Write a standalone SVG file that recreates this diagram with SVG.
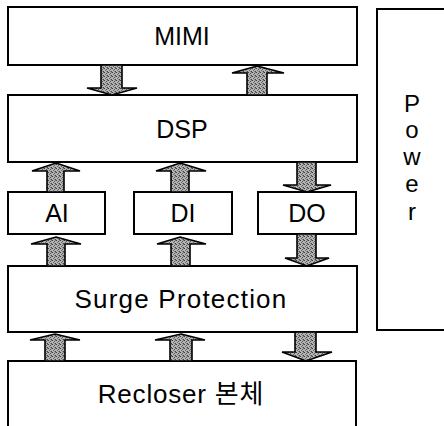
<svg xmlns="http://www.w3.org/2000/svg" width="444" height="426" viewBox="0 0 444 426">
<defs>
<pattern id="stip" width="4" height="4" patternUnits="userSpaceOnUse">
<rect width="4" height="4" fill="#b4b4b4"/>
<rect x="0" y="0" width="1" height="1" fill="#3c3c3c"/>
<rect x="2" y="1" width="1" height="1" fill="#555"/>
<rect x="3" y="3" width="1" height="1" fill="#444"/>
<rect x="1" y="2" width="1" height="1" fill="#6a6a6a"/>
<rect x="2" y="3" width="1" height="1" fill="#888"/>
<rect x="3" y="0" width="1" height="1" fill="#777"/>
</pattern>
</defs>
<style>
.box{fill:#fff;stroke:#000;stroke-width:2}
.t{font-family:"Liberation Sans",Arial,"Noto Sans CJK KR",sans-serif;font-size:25px;fill:#000;text-anchor:middle}
.p{font-size:24px}
.ar{fill:url(#stip);stroke:#000;stroke-width:1.6;stroke-linejoin:miter}
</style>
<g id="mimi"><rect class="box" x="8" y="7" width="349" height="58"/><text class="t" x="182" y="45">MIMI</text></g>
<g id="dsp"><rect class="box" x="8" y="95" width="349" height="67"/><text class="t" x="182" y="138">DSP</text></g>
<g id="ai"><rect class="box" x="8" y="192" width="97" height="42"/><text class="t" x="57" y="222">AI</text></g>
<g id="di"><rect class="box" x="134" y="192" width="98" height="42"/><text class="t" x="183" y="222">DI</text></g>
<g id="do"><rect class="box" x="258" y="192" width="98" height="42"/><text class="t" x="307" y="222">DO</text></g>
<g id="surge"><rect class="box" x="8" y="266" width="349" height="66"/><text class="t" x="181" y="308" style="font-size:26px;letter-spacing:1.2px">Surge Protection</text></g>
<g id="recloser"><rect class="box" x="8" y="361" width="348" height="70"/><text class="t" x="181" y="403" style="font-size:26px;letter-spacing:0.8px">Recloser 본체</text></g>
<g id="power"><rect class="box" x="377" y="9" width="80" height="321"/>
<text class="t p" x="412" y="112">P</text>
<text class="t p" x="412" y="138">o</text>
<text class="t p" x="412" y="165">w</text>
<text class="t p" x="412" y="192">e</text>
<text class="t p" x="412" y="220">r</text>
</g>
<g id="connectors">
<polygon class="ar" points="101,65 122,65 122,88 137,88 112,95 87,88 101,88"/>
<polygon class="ar" points="257,66 284,73 267,73 267,95 247,95 247,73 232,73"/>
<polygon class="ar" points="56,163 80,171 64,171 64,192 47,192 47,171 32,171"/>
<polygon class="ar" points="180,163 206,171 189,171 189,192 171,192 171,171 156,171"/>
<polygon class="ar" points="297,162 316,162 316,185 331,185 307,192 283,185 297,185"/>
<polygon class="ar" points="56,237 81,244 65,244 65,266 47,266 47,244 31,244"/>
<polygon class="ar" points="180,237 206,244 190,244 190,266 171,266 171,244 157,244"/>
<polygon class="ar" points="297,234 316,234 316,258 329,258 307,266 285,258 297,258"/>
<polygon class="ar" points="55,334 80,340 65,340 65,361 45,361 45,340 30,340"/>
<polygon class="ar" points="181,334 205,340 192,340 192,361 170,361 170,340 155,340"/>
<polygon class="ar" points="295,332 316,332 316,352 332,352 306,361 282,352 295,352"/>
</g>
</svg>
